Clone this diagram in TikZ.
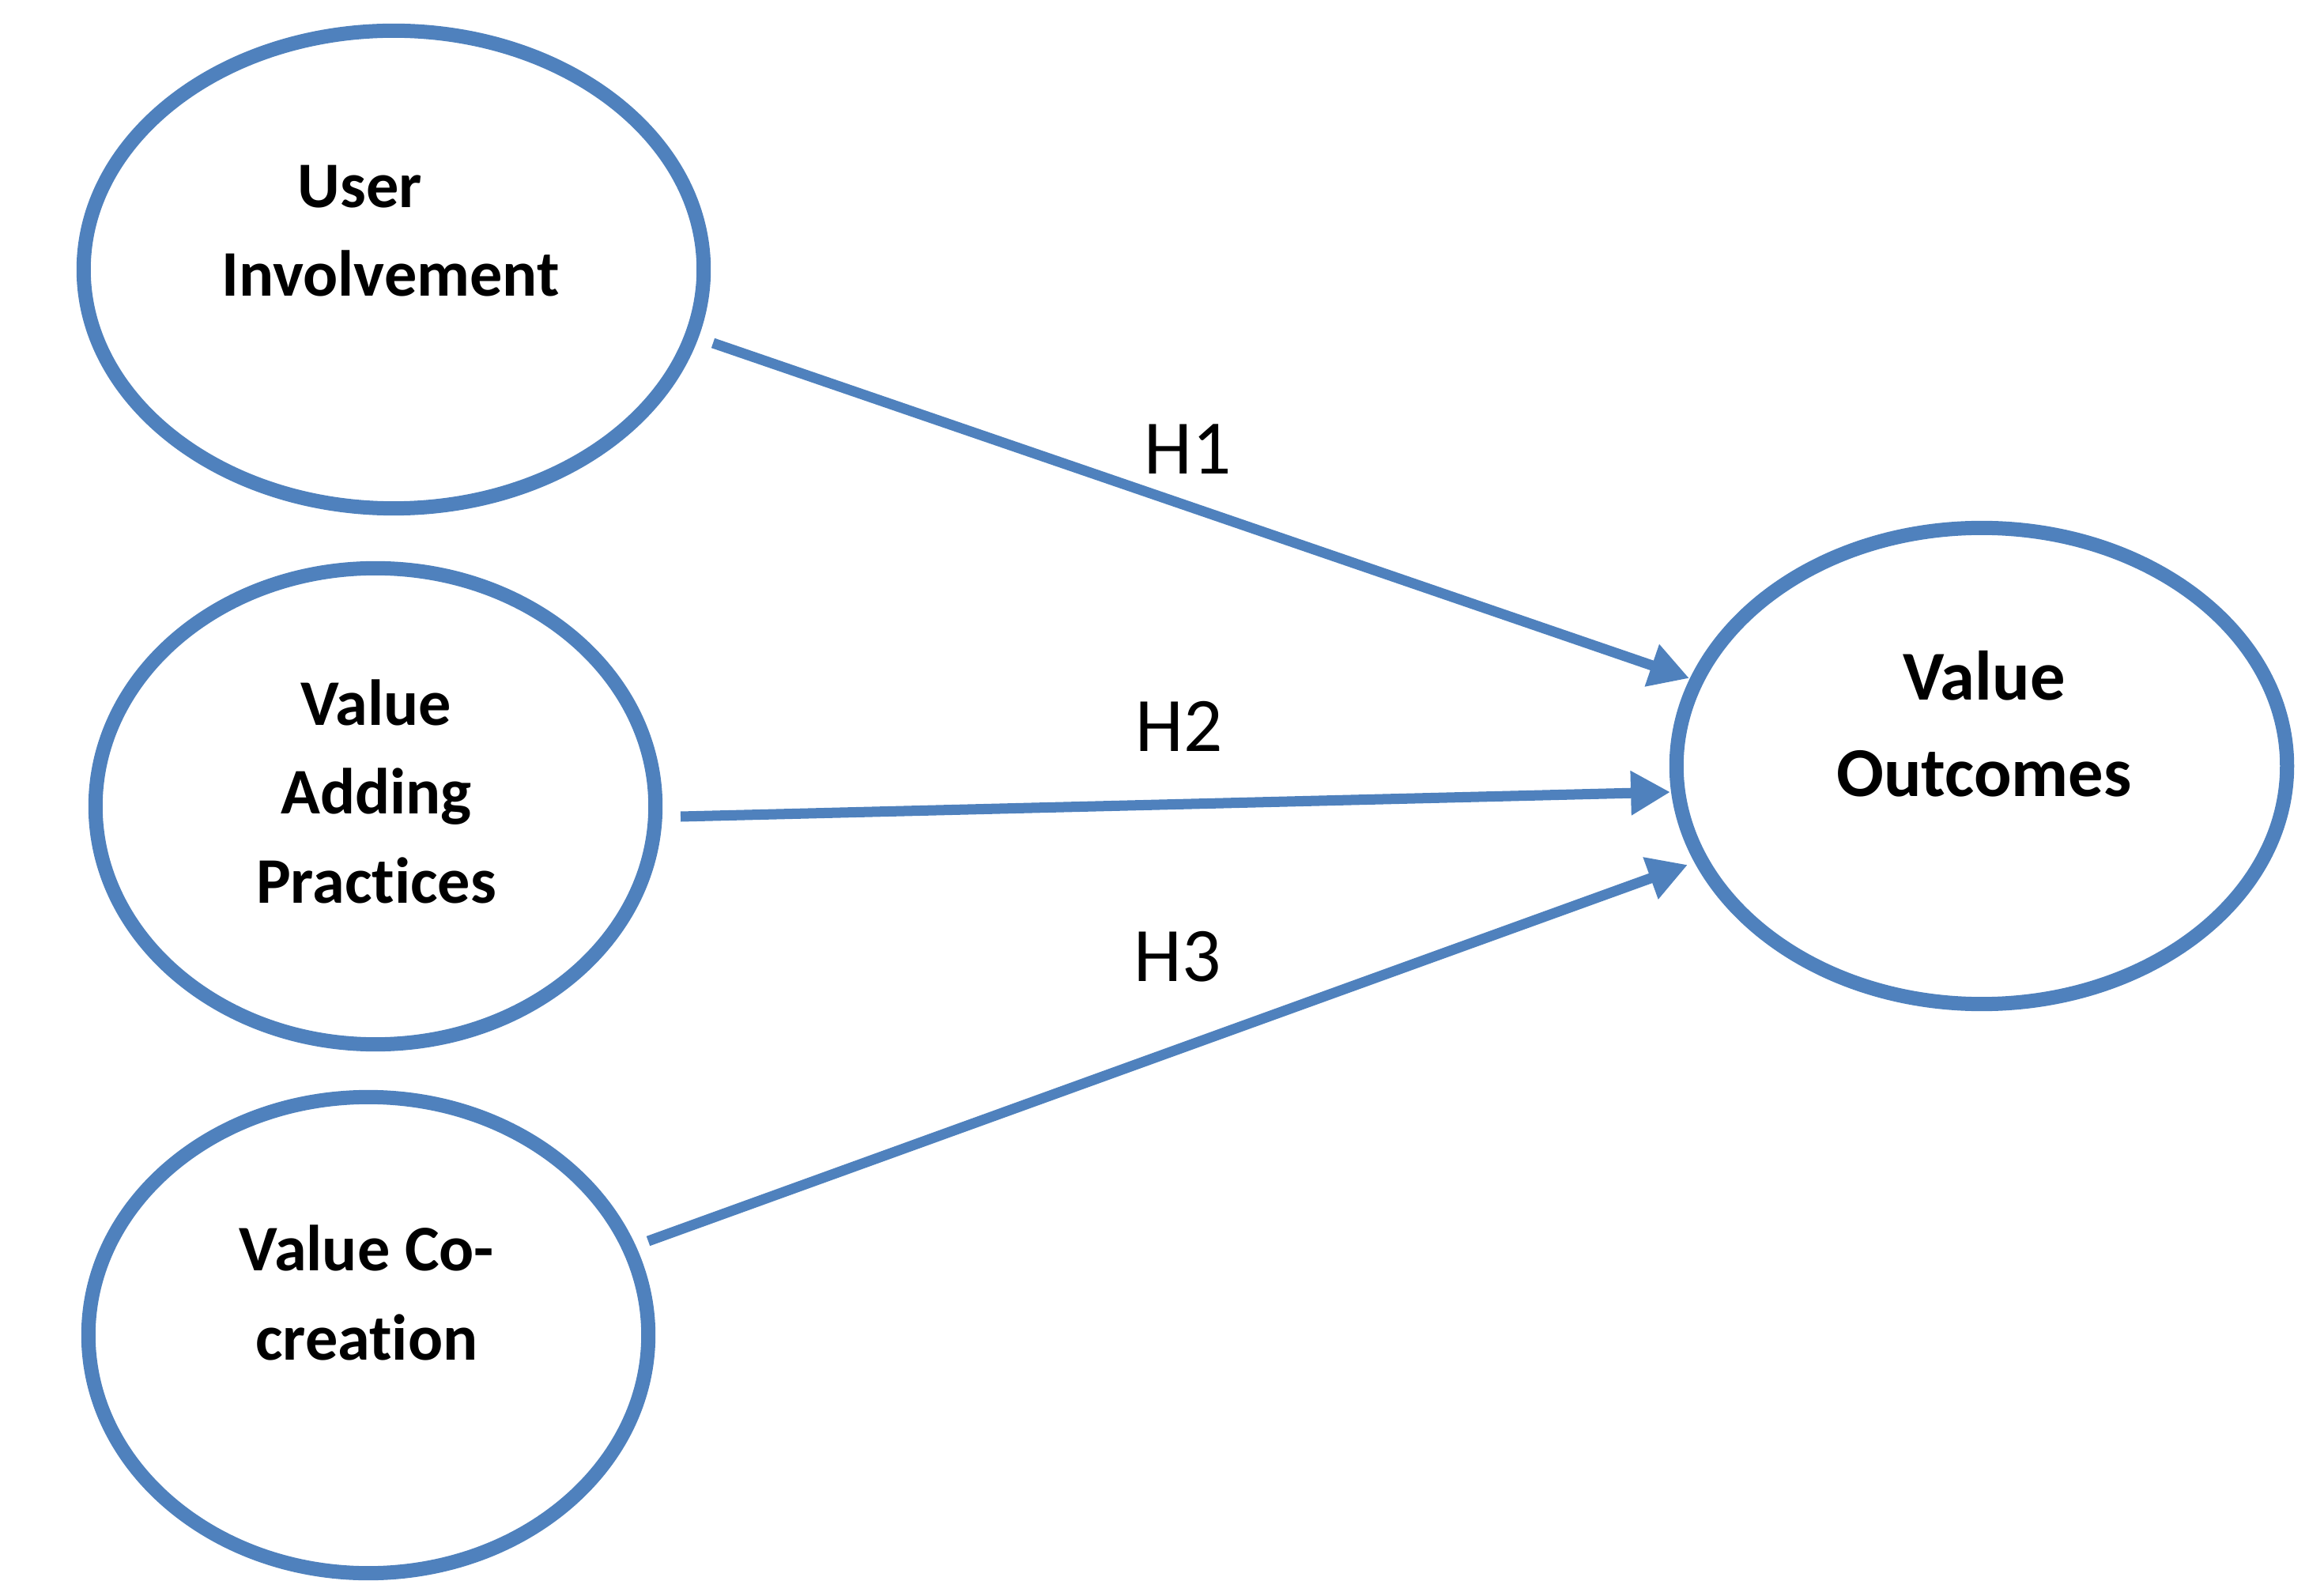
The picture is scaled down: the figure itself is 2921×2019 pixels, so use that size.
\documentclass[tikz,border=0pt]{standalone}
\usepackage{fontspec}
\setmainfont{Carlito}[Ligatures={NoCommon,NoContextual}]
\usetikzlibrary{arrows.meta,shapes.geometric}
\definecolor{refblue}{RGB}{79,129,189}
\begin{document}
\begin{tikzpicture}[x=0.01cm,y=-0.01cm,
  construct/.style={ellipse, draw=refblue, line width=5.12pt, inner sep=0pt, outer sep=0pt},
  ctext/.style={align=center, font=\bfseries\fontsize{23.4pt}{31.9pt}\selectfont, inner sep=0pt, anchor=base},
  otext/.style={align=center, font=\bfseries\fontsize{25.2pt}{34.7pt}\selectfont, inner sep=0pt, anchor=base},
  hlabel/.style={font=\fontsize{27.7pt}{33pt}\selectfont, inner sep=0pt, anchor=base},
  hyp/.style={draw=refblue, line width=3.7pt, -{Triangle[length=14.2pt,width=15.1pt]}}
]
\useasboundingbox (0,0) rectangle (2921,2019);
\node[construct, minimum width=7.84cm, minimum height=6.04cm] (ui) at (498,341) {};
\node[construct, minimum width=7.08cm, minimum height=6.02cm] (vap) at (475,1020) {};
\node[construct, minimum width=7.08cm, minimum height=6.02cm] (vcc) at (466,1689) {};
\node[construct, minimum width=7.72cm, minimum height=6.02cm] (vo) at (2507,969) {};

\node[ctext] (uit) at (494,375) {User\hspace*{22pt}\\Involvement};
\node[ctext] (vapt) at (476,1142) {Value\\Adding\\Practices};
\node[ctext] (vcct) at (464,1720) {Value Co-\\creation};
\node[otext] (vot) at (2510,1008) {Value\\Outcomes};

\coordinate (h1s) at ([shift={(404,93)}]ui.center);
\coordinate (h1e) at ([shift={(-370,-111)}]vo.center);
\coordinate (h2s) at ([shift={(386,13)}]vap.center);
\coordinate (h2e) at ([shift={(-394,33)}]vo.center);
\coordinate (h3s) at ([shift={(354,-119)}]vcc.center);
\coordinate (h3e) at ([shift={(-372,125)}]vo.center);

\draw[hyp] (h1s) -- (h1e);
\draw[hyp] (h2s) -- (h2e);
\draw[hyp] (h3s) -- (h3e);

\node[hlabel] (l1) at (1503,600) {H1};
\node[hlabel] (l2) at (1492,951) {H2};
\node[hlabel] (l3) at (1490,1241) {H3};
\end{tikzpicture}
\end{document}
